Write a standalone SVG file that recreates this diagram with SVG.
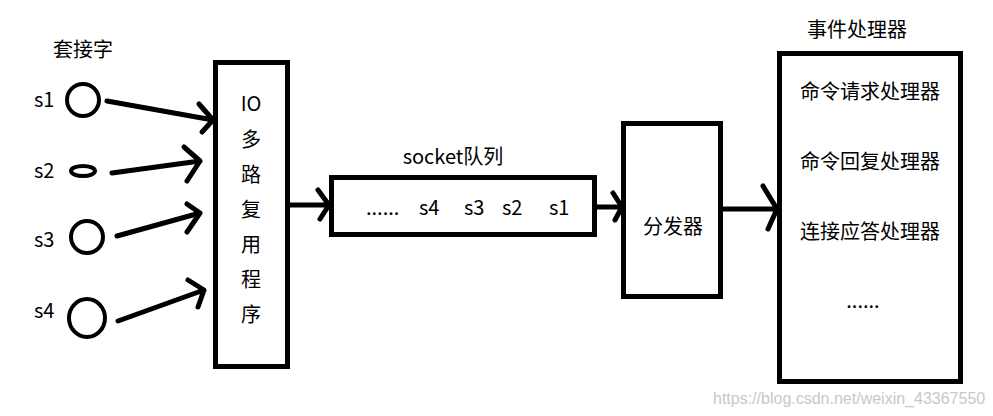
<svg xmlns="http://www.w3.org/2000/svg" width="993" height="416" viewBox="0 0 993 416">
<style>
.t{font-family:"Noto Sans CJK SC","Liberation Sans",sans-serif;font-size:20px;fill:#000}
.c{text-anchor:middle}
.box{fill:#fff;stroke:#000;stroke-width:5}
.sock{fill:none;stroke:#000;stroke-width:4}
.ln{fill:none;stroke:#000;stroke-width:5;stroke-linecap:round;stroke-linejoin:round}
.wm{font-family:"Liberation Sans",sans-serif;font-size:16px;fill:#c8c8c8}
</style>
<rect width="993" height="416" fill="#fff"/>
<text class="t" x="53" y="57">套接字</text>
<g id="s1"><text class="t" x="34" y="107">s1</text><circle class="sock" cx="83" cy="100" r="16"/></g>
<g id="s2"><text class="t" x="34" y="178">s2</text><ellipse class="sock" cx="83" cy="171" rx="12" ry="5"/></g>
<g id="s3"><text class="t" x="34" y="247">s3</text><circle class="sock" cx="87" cy="237" r="16"/></g>
<g id="s4"><text class="t" x="34" y="318">s4</text><ellipse class="sock" cx="87" cy="318" rx="18" ry="19"/></g>
<g id="io">
<rect class="box" x="215.5" y="62.5" width="72" height="304"/>
<text class="t c" x="251" y="111">IO</text>
<text class="t c" x="251" y="147">多</text>
<text class="t c" x="251" y="182">路</text>
<text class="t c" x="251" y="217">复</text>
<text class="t c" x="251" y="252">用</text>
<text class="t c" x="251" y="287">程</text>
<text class="t c" x="251" y="322">序</text>
</g>
<g id="queue">
<text class="t c" x="453" y="164">socket队列</text>
<rect class="box" x="331.5" y="177.5" width="263" height="57"/>
<text class="t" x="366" y="215">......</text>
<text class="t" x="419" y="215">s4</text>
<text class="t" x="464" y="215">s3</text>
<text class="t" x="502" y="215">s2</text>
<text class="t" x="549" y="215">s1</text>
</g>
<g id="dispatcher">
<rect class="box" x="623.5" y="123.5" width="97" height="173"/>
<text class="t c" x="673" y="234">分发器</text>
</g>
<g id="handlers">
<text class="t c" x="857" y="37">事件处理器</text>
<rect class="box" x="779.5" y="53.5" width="181" height="328"/>
<text class="t c" x="870" y="99">命令请求处理器</text>
<text class="t c" x="870" y="169">命令回复处理器</text>
<text class="t c" x="870" y="239">连接应答处理器</text>
<text class="t c" x="863" y="308">......</text>
</g>
<g id="connectors">
<path class="ln" d="M107 101L213 120M199 104L213 120L202 132"/>
<path class="ln" d="M112 173L200 161M184 147L200 161L187 181"/>
<path class="ln" d="M117 236L200 213M187 204L200 213L187 232"/>
<path class="ln" d="M118 321L204 290M188 280L204 290L198 307"/>
<path class="ln" d="M290 205L329 205M318 190L329 205L320 219"/>
<path class="ln" d="M597 207L622 207M613 193L622 207L615 220"/>
<path class="ln" d="M723 209L777 209M763 186L777 209L768 229"/>
</g>
<text class="wm" x="713" y="404">https://blog.csdn.net/weixin_43367550</text>
</svg>
